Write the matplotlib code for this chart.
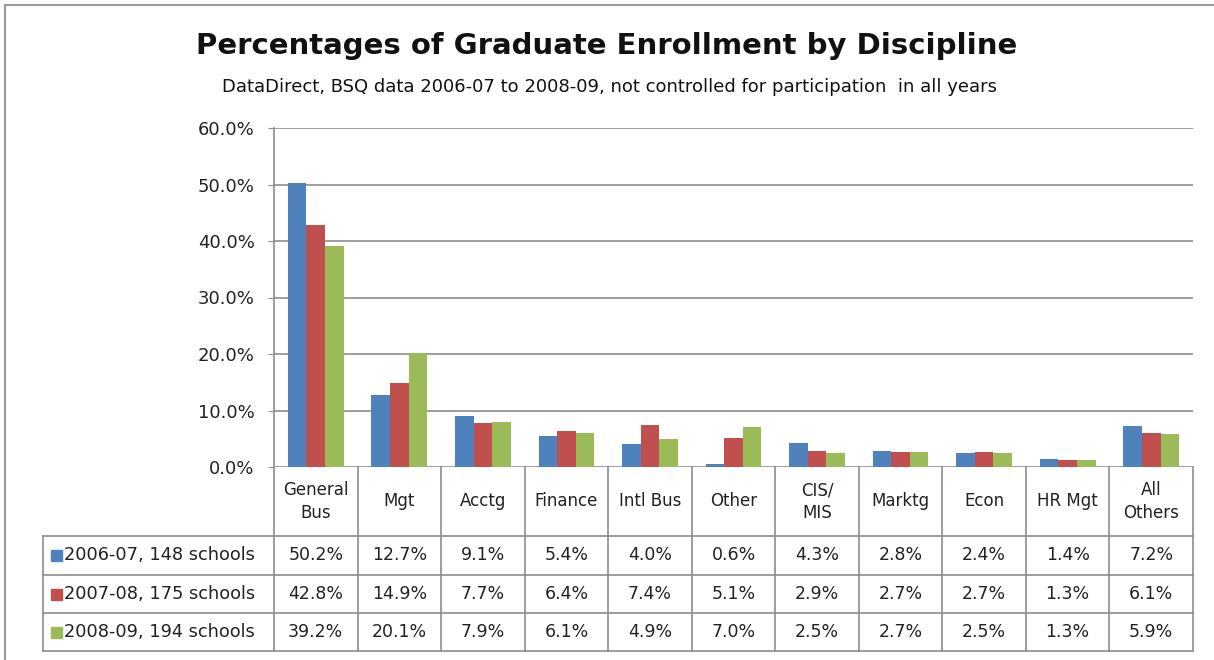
import matplotlib
matplotlib.use("Agg")
import matplotlib.pyplot as plt
from matplotlib.lines import Line2D
from matplotlib.patches import Rectangle
import numpy as np

categories = ["General\nBus", "Mgt", "Acctg", "Finance", "Intl Bus", "Other",
              "CIS/\nMIS", "Marktg", "Econ", "HR Mgt", "All\nOthers"]
series_names = ["2006-07, 148 schools", "2007-08, 175 schools", "2008-09, 194 schools"]
v2006 = [50.2, 12.7, 9.1, 5.4, 4.0, 0.6, 4.3, 2.8, 2.4, 1.4, 7.2]
v2007 = [42.8, 14.9, 7.7, 6.4, 7.4, 5.1, 2.9, 2.7, 2.7, 1.3, 6.1]
v2008 = [39.2, 20.1, 7.9, 6.1, 4.9, 7.0, 2.5, 2.7, 2.5, 1.3, 5.9]
yticks = [0, 10, 20, 30, 40, 50, 60]
colors = ["#4F81BD", "#C0504D", "#9BBB59"]

plt.rcParams['font.family'] = ['DejaVu Sans']

W, H = 1214, 660
fig = plt.figure(figsize=(W / 100, H / 100), dpi=100)
fig.patch.set_facecolor("white")

def fx(px):
    return px / W

def fy(py):
    return 1 - py / H

ax_l, ax_r, ax_t, ax_b = 274, 1193, 128, 467
ax = fig.add_axes([fx(ax_l), fy(ax_b), fx(ax_r - ax_l), (ax_b - ax_t) / H])

n = len(categories)
x = np.arange(n)
bw = 0.222
for k, vals in enumerate([v2006, v2007, v2008]):
    ax.bar(x + (k - 1) * bw, vals, width=bw, color=colors[k], zorder=3, linewidth=0)

ax.set_xlim(-0.5, n - 0.5)
ax.set_ylim(0, 60)
ax.set_yticks(yticks)
ax.set_yticklabels([f"{t:.1f}%" for t in yticks], fontsize=13, color="#222222")
ax.set_xticks([])
ax.grid(axis="y", color="#8c8c8c", linewidth=1.2, zorder=0)
for s in ["top", "right", "bottom"]:
    ax.spines[s].set_visible(False)
ax.spines["left"].set_color("#8c8c8c")
ax.spines["left"].set_linewidth(1.2)
ax.tick_params(axis="y", length=4, color="#8c8c8c", pad=10)

# ---- data table ----
line_c = "#8c8c8c"
lw = 1.2
col_w = (ax_r - ax_l) / n
row_tops = [467, 536, 575, 613, 651]
left_x = 43

def hline(x0, x1, y):
    fig.add_artist(Line2D([fx(x0), fx(x1)], [fy(y), fy(y)], color=line_c, lw=lw))

def vline(xp, y0, y1):
    fig.add_artist(Line2D([fx(xp), fx(xp)], [fy(y0), fy(y1)], color=line_c, lw=lw))

for i in range(n + 1):
    vline(ax_l + i * col_w, row_tops[0], row_tops[-1])
vline(left_x, row_tops[1], row_tops[-1])
for y in row_tops[1:]:
    hline(left_x, ax_r, y)

for i, c in enumerate(categories):
    cx = ax_l + (i + 0.5) * col_w
    cy = (row_tops[0] + row_tops[1]) / 2
    fig.text(fx(cx), fy(cy), c, ha="center", va="center", fontsize=12,
             color="#222222", linespacing=1.3)

for r, (name, vals) in enumerate(zip(series_names, [v2006, v2007, v2008])):
    cy = (row_tops[r + 1] + row_tops[r + 2]) / 2
    fig.add_artist(Rectangle((fx(51), fy(cy + 5.5)), fx(11), 11 / H, color=colors[r]))
    fig.text(fx(64), fy(cy), name, ha="left", va="center", fontsize=12.8, color="#222222")
    for i, v in enumerate(vals):
        cx = ax_l + (i + 0.5) * col_w
        fig.text(fx(cx), fy(cy), f"{v:.1f}%", ha="center", va="center",
                 fontsize=12.5, color="#222222")

fig.text(fx(607), fy(46), "Percentages of Graduate Enrollment by Discipline",
         ha="center", va="center", fontsize=21, fontweight="bold", color="#111111")
fig.text(fx(609), fy(87),
         "DataDirect, BSQ data 2006-07 to 2008-09, not controlled for participation  in all years",
         ha="center", va="center", fontsize=13, color="#111111")

fig.add_artist(Line2D([fx(5), fx(W)], [fy(5), fy(5)], color="#999999", lw=1.5))
fig.add_artist(Line2D([fx(5), fx(5)], [fy(5), fy(H)], color="#999999", lw=1.5))

fig.savefig("out.png", dpi=100, facecolor="white")
